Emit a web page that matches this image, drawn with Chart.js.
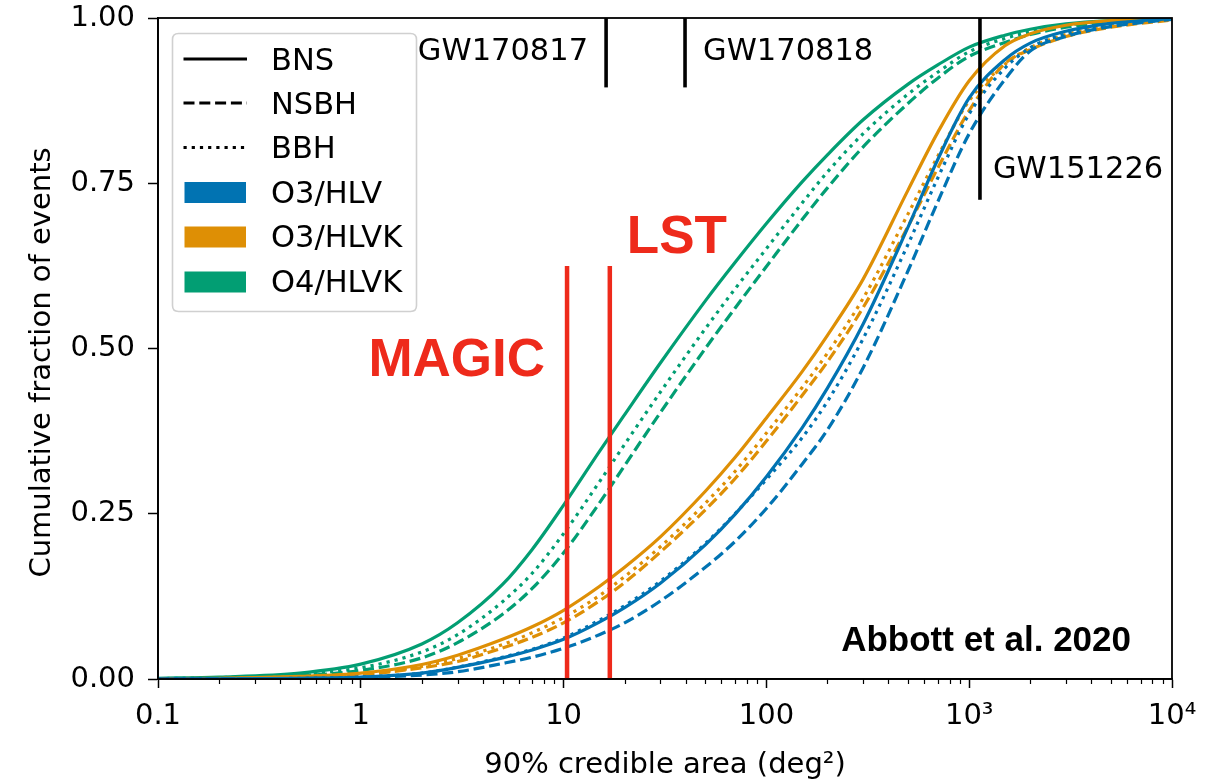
<!DOCTYPE html>
<html><head><meta charset="utf-8">
<script src="https://cdn.jsdelivr.net/npm/chart.js@4.4.1/dist/chart.umd.min.js"></script>
<style>html,body{margin:0;padding:0;background:#fff;}#wrap{width:1215px;height:781px;position:relative;}</style>
</head><body><div id="wrap"><canvas id="c" width="1215" height="781"></canvas></div>
<script>
// ---- data ----
const areaGrid = [0.1,0.2,0.5,1,2,3,5,7,10,15,20,30,50,70,100,150,200,300,500,700,1000,1500,2000,3000,5000,10000];

const o3hlvBNS  = [0,0.0002,0.001,0.003,0.009,0.0175,0.032,0.044,0.06,0.086,0.108,0.145,0.203,0.249,0.306,0.38,0.44,0.537,0.684,0.786,0.879,0.937,0.962,0.98,0.992,0.999];
const o3hlvNSBH = [0,0.0001,0.0006,0.002,0.006,0.011,0.0235,0.033,0.0465,0.067,0.085,0.118,0.169,0.208,0.258,0.325,0.377,0.471,0.618,0.722,0.825,0.907,0.95,0.972,0.987,0.998];
const o3hlvBBH  = [0,0.0002,0.001,0.003,0.009,0.018,0.033,0.045,0.062,0.089,0.111,0.148,0.205,0.25,0.302,0.365,0.42,0.515,0.658,0.758,0.855,0.924,0.955,0.976,0.99,0.999];

const o3hlvkBNS  = [0.0003,0.001,0.004,0.009,0.022,0.036,0.06,0.079,0.104,0.14,0.169,0.215,0.284,0.335,0.395,0.465,0.52,0.605,0.74,0.827,0.905,0.958,0.976,0.989,0.996,0.999];
const o3hlvkNSBH = [0.0002,0.0007,0.003,0.0065,0.017,0.0265,0.047,0.063,0.085,0.118,0.146,0.192,0.256,0.303,0.36,0.429,0.48,0.562,0.685,0.773,0.86,0.931,0.952,0.972,0.986,0.997];
const o3hlvkBBH  = [0.0002,0.0008,0.0035,0.0075,0.019,0.031,0.052,0.07,0.093,0.126,0.155,0.2,0.266,0.314,0.372,0.441,0.493,0.576,0.704,0.791,0.875,0.93,0.955,0.975,0.988,0.998];

const o4hlvkBNS  = [0.001,0.003,0.009,0.0225,0.053,0.085,0.143,0.196,0.263,0.344,0.40,0.478,0.572,0.63,0.689,0.752,0.793,0.846,0.9,0.929,0.956,0.974,0.983,0.991,0.996,0.999];
const o4hlvkNSBH = [0.0004,0.0015,0.005,0.013,0.032,0.055,0.098,0.137,0.191,0.266,0.323,0.403,0.50,0.561,0.624,0.695,0.743,0.805,0.871,0.909,0.942,0.963,0.975,0.986,0.994,0.999];
const o4hlvkBBH  = [0.0006,0.002,0.007,0.017,0.041,0.067,0.117,0.16,0.22,0.298,0.355,0.434,0.53,0.59,0.651,0.72,0.767,0.825,0.885,0.918,0.949,0.969,0.979,0.989,0.995,0.999];

const decadeTicks  = [0.1,1,10,100,1000,10000];
const decadeLabels = ['0.1','1','10','100','10³','10⁴'];
const yTicks = [0,0.25,0.5,0.75,1];

const gwNames = ['GW170817','GW170818','GW151226'];
const gwAreas = [16.2,39.7,1130];
const gwLow   = [0.895,0.895,0.725];

const telNames = ['MAGIC','LST'];
const telAreas = [10.4,16.9];
const telTop   = 0.625;

const styleNames = ['BNS','NSBH','BBH'];
const netNames   = ['O3/HLV','O3/HLVK','O4/HLVK'];

// ---- styling ----
const netColors = ['#0173B2','#DE8F05','#029E73'];
const dashes = [[],[11,4.8],[3.2,5]];
const RED = '#EE2A1B';
const FONT = 'DejaVu Sans';
const BOLD = 'Liberation Sans';

const curveSets = [
  [o3hlvBNS,o3hlvNSBH,o3hlvBBH],
  [o3hlvkBNS,o3hlvkNSBH,o3hlvkBBH],
  [o4hlvkBNS,o4hlvkNSBH,o4hlvkBBH]
];

const datasets = [];
curveSets.forEach((set,ni)=>{
  set.forEach((arr,si)=>{
    datasets.push({
      label: netNames[ni]+' '+styleNames[si],
      data: areaGrid.map((a,i)=>({x:a,y:arr[i]})),
      borderColor: netColors[ni], borderWidth: 3.2, borderDash: dashes[si],
      pointRadius: 0, fill:false, cubicInterpolationMode:'monotone', order: 2
    });
  });
});
gwAreas.forEach((a,i)=>{
  datasets.push({label:gwNames[i], data:[{x:a,y:gwLow[i]},{x:a,y:1}], borderColor:'#000', borderWidth:3.6, pointRadius:0, tension:0, order:0, clip:false});
});
telAreas.forEach((a,i)=>{
  datasets.push({label:telNames[i], data:[{x:a,y:0},{x:a,y:telTop}], borderColor:RED, borderWidth:4.5, pointRadius:0, tension:0, order:0});
});

const decor = {
  id:'decor',
  afterDraw(chart){
    const ctx = chart.ctx, ca = chart.chartArea, xs = chart.scales.x;
    ctx.save();
    // frame
    ctx.strokeStyle='#000'; ctx.lineWidth=1.8;
    ctx.strokeRect(ca.left, ca.top, ca.right-ca.left, ca.bottom-ca.top);
    // minor ticks
    ctx.lineWidth=1.2;
    for (let d=0; d<decadeTicks.length-1; d++){
      for (let m=2;m<=9;m++){
        const px = Math.round(xs.getPixelForValue(decadeTicks[d]*m))+0.5;
        ctx.beginPath(); ctx.moveTo(px, ca.bottom); ctx.lineTo(px, ca.bottom+5); ctx.stroke();
      }
    }
    // axis titles
    ctx.fillStyle='#000';
    ctx.font = '29px "'+FONT+'"';
    ctx.textAlign='center'; ctx.textBaseline='alphabetic';
    ctx.fillText('90% credible area (deg²)', (ca.left+ca.right)/2, 773);
    ctx.save();
    ctx.translate(50, (ca.top+ca.bottom)/2 + 14);
    ctx.rotate(-Math.PI/2);
    ctx.fillText('Cumulative fraction of events', 0, 0);
    ctx.restore();

    // GW labels
    ctx.font = '30.5px "'+FONT+'"';
    ctx.textAlign='right';
    ctx.fillText(gwNames[0], xs.getPixelForValue(gwAreas[0]) - 18, 60);
    ctx.textAlign='left';
    ctx.fillText(gwNames[1], xs.getPixelForValue(gwAreas[1]) + 18, 60);
    ctx.fillText(gwNames[2], xs.getPixelForValue(gwAreas[2]) + 13, 178);

    // telescope labels
    ctx.fillStyle = RED;
    ctx.font = 'bold 53px "'+BOLD+'"';
    ctx.textAlign='right';
    ctx.fillText(telNames[0], xs.getPixelForValue(telAreas[0]) - 22, 376);
    ctx.textAlign='left';
    ctx.fillText(telNames[1], xs.getPixelForValue(telAreas[1]) + 17, 253);

    // citation
    ctx.fillStyle='#000';
    ctx.font = 'bold 35px "'+BOLD+'"';
    ctx.textAlign='right';
    ctx.fillText('Abbott et al. 2020', 1131, 651);

    // legend
    const lx=172.5, ly=33.5, lw=244, lh=278, r=6;
    ctx.beginPath();
    ctx.moveTo(lx+r,ly); ctx.lineTo(lx+lw-r,ly); ctx.quadraticCurveTo(lx+lw,ly,lx+lw,ly+r);
    ctx.lineTo(lx+lw,ly+lh-r); ctx.quadraticCurveTo(lx+lw,ly+lh,lx+lw-r,ly+lh);
    ctx.lineTo(lx+r,ly+lh); ctx.quadraticCurveTo(lx,ly+lh,lx,ly+lh-r);
    ctx.lineTo(lx,ly+r); ctx.quadraticCurveTo(lx,ly,lx+r,ly); ctx.closePath();
    ctx.fillStyle='rgba(255,255,255,0.85)'; ctx.fill();
    ctx.strokeStyle='#d0d0d0'; ctx.lineWidth=1.6; ctx.stroke();

    const rowY = [59,103,147.5,192.5,237,282];
    const textBase = [70,114.3,158.3,202.7,246.7,291.7];
    ctx.font = '30.5px "'+FONT+'"'; ctx.textAlign='left'; ctx.fillStyle='#000';
    for (let i=0;i<3;i++){
      ctx.strokeStyle='#000'; ctx.lineWidth=3.2; ctx.setLineDash(dashes[i]);
      ctx.beginPath(); ctx.moveTo(183.5,rowY[i]); ctx.lineTo(247,rowY[i]); ctx.stroke();
      ctx.setLineDash([]);
      ctx.fillStyle='#000';
      ctx.fillText(styleNames[i], 271, textBase[i]);
    }
    for (let i=0;i<3;i++){
      ctx.fillStyle=netColors[i];
      ctx.fillRect(184.5, rowY[i+3]-10.5, 61.5, 21);
      ctx.fillStyle='#000';
      ctx.fillText(netNames[i], 271, textBase[i+3]);
    }
    ctx.restore();
  }
};

function zeroPad(s){ s.paddingTop=0; s.paddingBottom=0; s.paddingLeft=0; s.paddingRight=0; }

new Chart(document.getElementById('c'), {
  type:'line',
  data:{datasets},
  options:{
    responsive:false, animation:false, devicePixelRatio:1,
    layout:{padding:{top:18,right:43,left:0,bottom:0}},
    plugins:{legend:{display:false}, tooltip:{enabled:false}},
    scales:{
      x:{
        type:'logarithmic', min:0.1, max:10000, position:'bottom',
        border:{display:true,color:'#000',width:1.8},
        grid:{display:true, drawOnChartArea:false, drawTicks:true, tickLength:9, tickWidth:1.5, tickColor:'#000'},
        ticks:{font:{family:FONT,size:29}, color:'#000', padding:11, maxRotation:0, autoSkip:false,
          callback:(v,i)=>decadeLabels[i]},
        afterBuildTicks:(s)=>{ s.ticks = decadeTicks.map(v=>({value:v})); },
        afterFit:(s)=>{ s.height = 102; zeroPad(s); }
      },
      y:{
        type:'linear', min:0, max:1,
        border:{display:true,color:'#000',width:1.8},
        grid:{display:true, drawOnChartArea:false, drawTicks:true, tickLength:10, tickWidth:1.5, tickColor:'#000'},
        ticks:{font:{family:FONT,size:29}, color:'#000', padding:13, callback:(v)=>Number(v).toFixed(2)},
        afterBuildTicks:(s)=>{ s.ticks = yTicks.map(v=>({value:v})); },
        afterFit:(s)=>{ s.width = 158; zeroPad(s); }
      }
    }
  },
  plugins:[decor]
});
</script></body></html>
